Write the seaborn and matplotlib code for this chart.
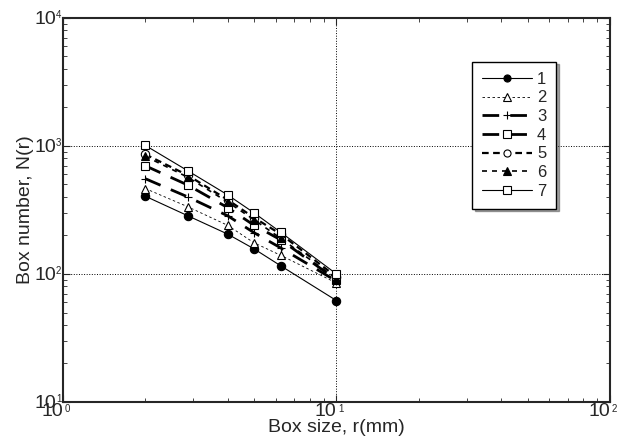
import matplotlib
matplotlib.use("Agg")
import matplotlib.pyplot as plt
import matplotlib.ticker as mticker
import numpy as np
import seaborn as sns

box_size = [2, 2.86, 4, 5, 6.25, 10]
labels = ["1", "2", "3", "4", "5", "6", "7"]
n1 = [405, 285, 205, 157, 116, 62]
n2 = [465, 335, 240, 175, 140, 85]
n3 = [555, 400, 285, 210, 160, 88]
n4 = [700, 495, 330, 240, 185, 90]
n5 = [860, 590, 380, 275, 205, 95]
n6 = [830, 570, 365, 265, 190, 92]
n7 = [1010, 640, 415, 300, 212, 100]
series = [n1, n2, n3, n4, n5, n6, n7]
x_ticks = [1, 10, 100]
y_ticks = [10, 100, 1000, 10000]

# marker, facecolor, linestyle (dash pattern), linewidth
styles = [
    ("o", "black", "-", 0.8),
    ("^", "white", (0, (3, 3)), 0.6),
    ("+", "black", (0, (6, 4)), 2.0),
    ("s", "white", (0, (6, 4)), 2.0),
    ("o", "white", (0, (3, 2)), 1.6),
    ("^", "black", (0, (3, 3)), 1.2),
    ("s", "white", "-", 0.8),
]

sns.set_style("ticks")
plt.rcParams["font.family"] = ["Liberation Sans", "DejaVu Sans"]

fig = plt.figure(figsize=(6.23, 4.42), dpi=100)
ax = fig.add_axes([0.101, 0.0905, 0.878, 0.869])

for vals, lab, (mk, fc, ls, lw) in zip(series, labels, styles):
    sns.lineplot(x=box_size, y=vals, ax=ax, color="black", marker=mk,
                 markerfacecolor=fc, markeredgecolor="black", markersize=6,
                 markeredgewidth=0.8, linestyle=ls, linewidth=lw, label=lab)

ax.set_xscale("log")
ax.set_yscale("log")
ax.set_xlim(1, 100)
ax.set_ylim(10, 10000)
ax.grid(True, which="major", linestyle=":", color="black", linewidth=0.7)

# "10" labels with small exponents, like the original figure
ax.set_xticks(x_ticks)
ax.set_xticklabels(["10"] * len(x_ticks), ha="right")
ax.set_yticks(y_ticks)
ax.set_yticklabels(["10"] * len(y_ticks))
ax.xaxis.set_minor_formatter(mticker.NullFormatter())
ax.yaxis.set_minor_formatter(mticker.NullFormatter())
for v in x_ticks:
    ax.annotate(str(int(np.log10(v))), xy=(v, 0), xycoords=("data", "axes fraction"),
                xytext=(1.5, -1.5), textcoords="offset points",
                ha="left", va="top", fontsize=7, annotation_clip=False)
for v in y_ticks:
    ax.annotate(str(int(np.log10(v))), xy=(0, v), xycoords=("axes fraction", "data"),
                xytext=(-5, 5.5), textcoords="offset points",
                ha="left", va="top", fontsize=7, annotation_clip=False)

ax.tick_params(which="both", direction="in", top=True, right=True, labelsize=14)
ax.tick_params(which="major", length=5)
ax.tick_params(which="minor", length=3)
ax.tick_params(axis="x", pad=1)
ax.tick_params(axis="y", pad=5)
for sp in ax.spines.values():
    sp.set_linewidth(1.5)
ax.set_xlabel("Box size, r(mm)", fontsize=14, labelpad=-1)
ax.set_ylabel("Box number, N(r)", fontsize=14, labelpad=0)

leg = ax.legend(loc="upper left", bbox_to_anchor=(0.748, 0.886), frameon=True,
                fancybox=False, shadow=True, edgecolor="black", fontsize=12,
                handlelength=3.0, handletextpad=0.3, labelspacing=0.22,
                borderpad=0.6, borderaxespad=0, markerscale=0.85)
leg.get_frame().set_linewidth(1.0)

fig.savefig("out.png", dpi=100)
